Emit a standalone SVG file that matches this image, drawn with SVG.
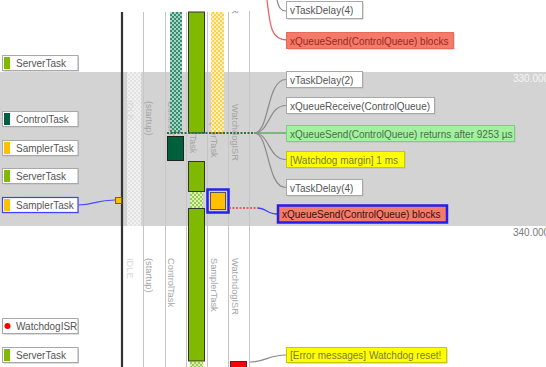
<svg xmlns="http://www.w3.org/2000/svg" width="546" height="367" viewBox="0 0 546 367">
<defs>
<style>
text{font-family:"Liberation Sans",Arial,sans-serif}
.lbl{font-size:10px;fill:#555}
.lane{font-size:9.3px;fill:#a4a4a4}
.idle{font-size:9.3px;fill:#d8d8d8}
.box{fill:#fff;stroke:#a8a8a8;stroke-width:1}
.sh{fill:#bdbdbd}
.div{stroke:#c6c6c6;stroke-width:1}
.fan{fill:none;stroke:#8a8a8a;stroke-width:1.2}
.ts{font-size:10px}
</style>
<pattern id="chkIdle" width="4" height="4" patternUnits="userSpaceOnUse"><rect width="4" height="4" fill="#fff" fill-opacity="0.35"/><rect width="2" height="2" fill="#fff" fill-opacity="0.5"/><rect x="2" y="2" width="2" height="2" fill="#fff" fill-opacity="0.5"/></pattern>
<pattern id="chkCtl" width="4" height="4" patternUnits="userSpaceOnUse"><rect width="4" height="4" fill="#a6d2c2"/><rect width="2" height="2" fill="#3a8d72"/><rect x="2" y="2" width="2" height="2" fill="#3a8d72"/></pattern>
<pattern id="chkSmp" width="4" height="4" patternUnits="userSpaceOnUse"><rect width="4" height="4" fill="#fff1c4"/><rect width="2" height="2" fill="#ffd048"/><rect x="2" y="2" width="2" height="2" fill="#ffd048"/></pattern>
<pattern id="chkSrv" width="4" height="4" patternUnits="userSpaceOnUse"><rect width="4" height="4" fill="#dcefb8"/><rect width="2" height="2" fill="#9acd4a"/><rect x="2" y="2" width="2" height="2" fill="#9acd4a"/></pattern>
<clipPath id="laneClip"><rect x="0" y="11" width="546" height="356"/></clipPath>
</defs>
<rect width="546" height="367" fill="#fff"/>
<rect x="0" y="72" width="546" height="154" fill="#d3d3d3"/>
<text class="ts" x="513" y="82" fill="#f6f6f6">330.000</text>
<text class="ts" x="513" y="236" fill="#7a7a7a">340.000</text>

<g id="lanes" clip-path="url(#laneClip)">
<rect x="127" y="12" width="14" height="355" fill="url(#chkIdle)"/>
<line class="div" x1="143.5" y1="12" x2="143.5" y2="367"/>
<line class="div" x1="165.5" y1="12" x2="165.5" y2="367"/>
<line class="div" x1="186.5" y1="12" x2="186.5" y2="367"/>
<line class="div" x1="207.5" y1="12" x2="207.5" y2="367"/>
<line class="div" x1="228.5" y1="12" x2="228.5" y2="367"/>
<line class="div" x1="249.5" y1="0" x2="249.5" y2="367"/>
<text class="lane" transform="translate(232,-43) rotate(90)">WatchdogISR</text>
<text class="idle" transform="translate(127,100) rotate(90)">IDLE</text>
<text class="lane" transform="translate(146,101) rotate(90)">(startup)</text>
<text class="lane" transform="translate(168,101) rotate(90)">ControlTask</text>
<text class="lane" transform="translate(190,107) rotate(90)">ServerTask</text>
<text class="lane" transform="translate(211,104) rotate(90)">SamplerTask</text>
<text class="lane" transform="translate(232,104) rotate(90)">WatchdogISR</text>
<text class="idle" transform="translate(127,258) rotate(90)">IDLE</text>
<text class="lane" transform="translate(146,258) rotate(90)">(startup)</text>
<text class="lane" transform="translate(168,258) rotate(90)">ControlTask</text>
<text class="lane" transform="translate(211,258) rotate(90)">SamplerTask</text>
<text class="lane" transform="translate(232,258) rotate(90)">WatchdogISR</text>
<line x1="122" y1="12" x2="122" y2="367" stroke="#333" stroke-width="2.2"/>
</g>

<g id="bars">
<rect id="ctl-ready" x="170" y="12" width="12" height="121" fill="url(#chkCtl)"/>
<rect id="ctl-run" x="167.5" y="136.5" width="16" height="24" fill="#005f3c" stroke="#222"/>
<rect id="srv-run1" x="188.5" y="12" width="16" height="121" fill="#7fba00" stroke="#333"/>
<rect id="srv-run2" x="188.5" y="161.5" width="16" height="30" fill="#7fba00" stroke="#333"/>
<rect id="srv-ready" x="190" y="192" width="13" height="16" fill="url(#chkSrv)"/>
<rect id="srv-run3" x="188.5" y="208.5" width="16" height="152.5" fill="#7fba00" stroke="#333"/>
<rect id="srv-ready2" x="190" y="362" width="13" height="5" fill="url(#chkSrv)"/>
<rect id="smp-ready" x="211" y="12" width="13" height="121" fill="url(#chkSmp)"/>
<line x1="211" y1="133" x2="224" y2="133" stroke="#e8a800" stroke-width="2"/>
<g id="smp-selected">
<rect x="207.5" y="189.5" width="21" height="23" fill="#d0d0e8" stroke="#2222ee" stroke-width="2.5"/>
<rect x="210.5" y="192.5" width="15" height="17" fill="#ffc000" stroke="#555"/>
</g>
<rect id="wdg-run" x="230.5" y="361.5" width="16" height="8" fill="#ff0000" stroke="#333"/>
</g>

<g id="connectors">
<path d="M167,133 L254,133" stroke="#2f6f40" stroke-width="2" stroke-dasharray="2,1.5" fill="none"/>
<path d="M254,133 L286,133" stroke="#5aab5a" stroke-width="1.4" fill="none"/>
<path class="fan" d="M254,133 C270,133 266,79.5 286,79.5"/>
<path class="fan" d="M254,133 C270,133 268,105.5 286,105.5"/>
<path class="fan" d="M254,133 C270,133 268,159.5 286,159.5"/>
<path class="fan" d="M254,133 C270,133 266,187.5 286,187.5"/>
<path d="M229,208 L258,208" stroke="#e84040" stroke-width="1.3" stroke-dasharray="2,1.5" fill="none"/>
<path d="M258,208 C267,208 266,214 278,214" stroke="#4040ff" stroke-width="1.3" fill="none"/>
<path d="M78,205 C96,205 94,200 115,200" stroke="#4a4aff" stroke-width="1.2" fill="none"/>
<path d="M267,0 C270,26 271,40 287,40" stroke="#f06060" stroke-width="1.3" fill="none"/>
<path class="fan" d="M277,0 C279,8 281,11 286,11"/>
<path class="fan" d="M250,362 C266,362 268,355 286,355"/>
</g>
<rect id="sampler-marker" x="115.5" y="197.5" width="6" height="6" fill="#ffc000" stroke="#806000"/>

<g id="lbl-server1"><rect class="sh" x="3.5" y="56.5" width="75.5" height="15"/><rect class="box" x="2.5" y="55.5" width="75.5" height="15"/><rect x="4" y="57" width="6" height="12" fill="#7fba00"/><text class="lbl" x="16" y="66.5">ServerTask</text></g>
<g id="lbl-control"><rect class="sh" x="3.5" y="112.5" width="75.5" height="15"/><rect class="box" x="2.5" y="111.5" width="75.5" height="15"/><rect x="4" y="113" width="6" height="12" fill="#005f3c"/><text class="lbl" x="16" y="122.5">ControlTask</text></g>
<g id="lbl-sampler1"><rect class="sh" x="3.5" y="141.5" width="75.5" height="15"/><rect class="box" x="2.5" y="140.5" width="75.5" height="15"/><rect x="4" y="142" width="6" height="12" fill="#ffc000"/><text class="lbl" x="16" y="151.5">SamplerTask</text></g>
<g id="lbl-server2"><rect class="sh" x="3.5" y="169.5" width="75.5" height="15"/><rect class="box" x="2.5" y="168.5" width="75.5" height="15"/><rect x="4" y="170" width="6" height="12" fill="#7fba00"/><text class="lbl" x="16" y="179.5">ServerTask</text></g>
<g id="lbl-sampler2"><rect class="sh" x="3.5" y="198.5" width="75.5" height="15"/><rect x="2.5" y="197.5" width="75.5" height="15" fill="#fff" stroke="#4040ff" stroke-width="1.2"/><rect x="4" y="199" width="6" height="12" fill="#ffc000"/><text class="lbl" x="16" y="208.5">SamplerTask</text></g>
<g id="lbl-watchdog"><rect class="sh" x="3.5" y="319.5" width="75.5" height="15"/><rect class="box" x="2.5" y="318.5" width="75.5" height="15"/><circle cx="7.5" cy="326" r="3" fill="#ff0000"/><text class="lbl" x="16" y="329.5">WatchdogISR</text></g>
<g id="lbl-server3"><rect class="sh" x="3.5" y="348.5" width="75.5" height="15"/><rect class="box" x="2.5" y="347.5" width="75.5" height="15"/><rect x="4" y="349" width="6" height="12" fill="#7fba00"/><text class="lbl" x="16" y="358.5">ServerTask</text></g>

<g id="ev-delay4-top"><rect class="sh" x="287.5" y="2.5" width="76" height="17"/><rect class="box" x="286.5" y="1.5" width="76" height="17"/><text class="lbl" x="290" y="14">vTaskDelay(4)</text></g>
<g id="ev-send-blocks-top"><rect class="sh" x="287.5" y="33.5" width="167" height="16"/><rect x="286.5" y="32.5" width="167" height="16" fill="#f47a6a" stroke="#e86a5a"/><text class="lbl" x="290" y="44.5" style="fill:#9a2a20">xQueueSend(ControlQueue) blocks</text></g>
<g id="ev-delay2"><rect class="sh" x="287.5" y="72.5" width="76" height="16"/><rect class="box" x="286.5" y="71.5" width="76" height="16"/><text class="lbl" x="290" y="83.5">vTaskDelay(2)</text></g>
<g id="ev-receive"><rect class="sh" x="287.5" y="98.5" width="148" height="16"/><rect class="box" x="286.5" y="97.5" width="148" height="16"/><text class="lbl" x="290" y="109.5">xQueueReceive(ControlQueue)</text></g>
<g id="ev-returns"><rect class="sh" x="287.5" y="126.5" width="228" height="16"/><rect x="286.5" y="125.5" width="228" height="16" fill="#a2f0a0" stroke="#86c886"/><text class="lbl" x="290" y="137.5" style="fill:#4e6e4e">xQueueSend(ControlQueue) returns after 9253 µs</text></g>
<g id="ev-margin"><rect class="sh" x="287.5" y="152.5" width="118" height="16"/><rect x="286.5" y="151.5" width="118" height="16" fill="#ffff00" stroke="#c8c800"/><text class="lbl" x="290" y="163.5" style="fill:#7a7a40">[Watchdog margin] 1 ms</text></g>
<g id="ev-delay4"><rect class="sh" x="287.5" y="180.5" width="76" height="16"/><rect class="box" x="286.5" y="179.5" width="76" height="16"/><text class="lbl" x="290" y="191.5">vTaskDelay(4)</text></g>
<g id="ev-send-blocks-sel"><rect x="278" y="205.5" width="169" height="17" fill="#f47a6a" stroke="#2020ee" stroke-width="2.5"/><text class="lbl" x="282" y="217.8" style="fill:#3a1010">xQueueSend(ControlQueue) blocks</text></g>
<g id="ev-error"><rect class="sh" x="287.5" y="348.5" width="160" height="15"/><rect x="286.5" y="347.5" width="160" height="15" fill="#ffff00" stroke="#c8c800"/><text class="lbl" x="290" y="359" style="fill:#7a7a40">[Error messages] Watchdog reset!</text></g>
</svg>
